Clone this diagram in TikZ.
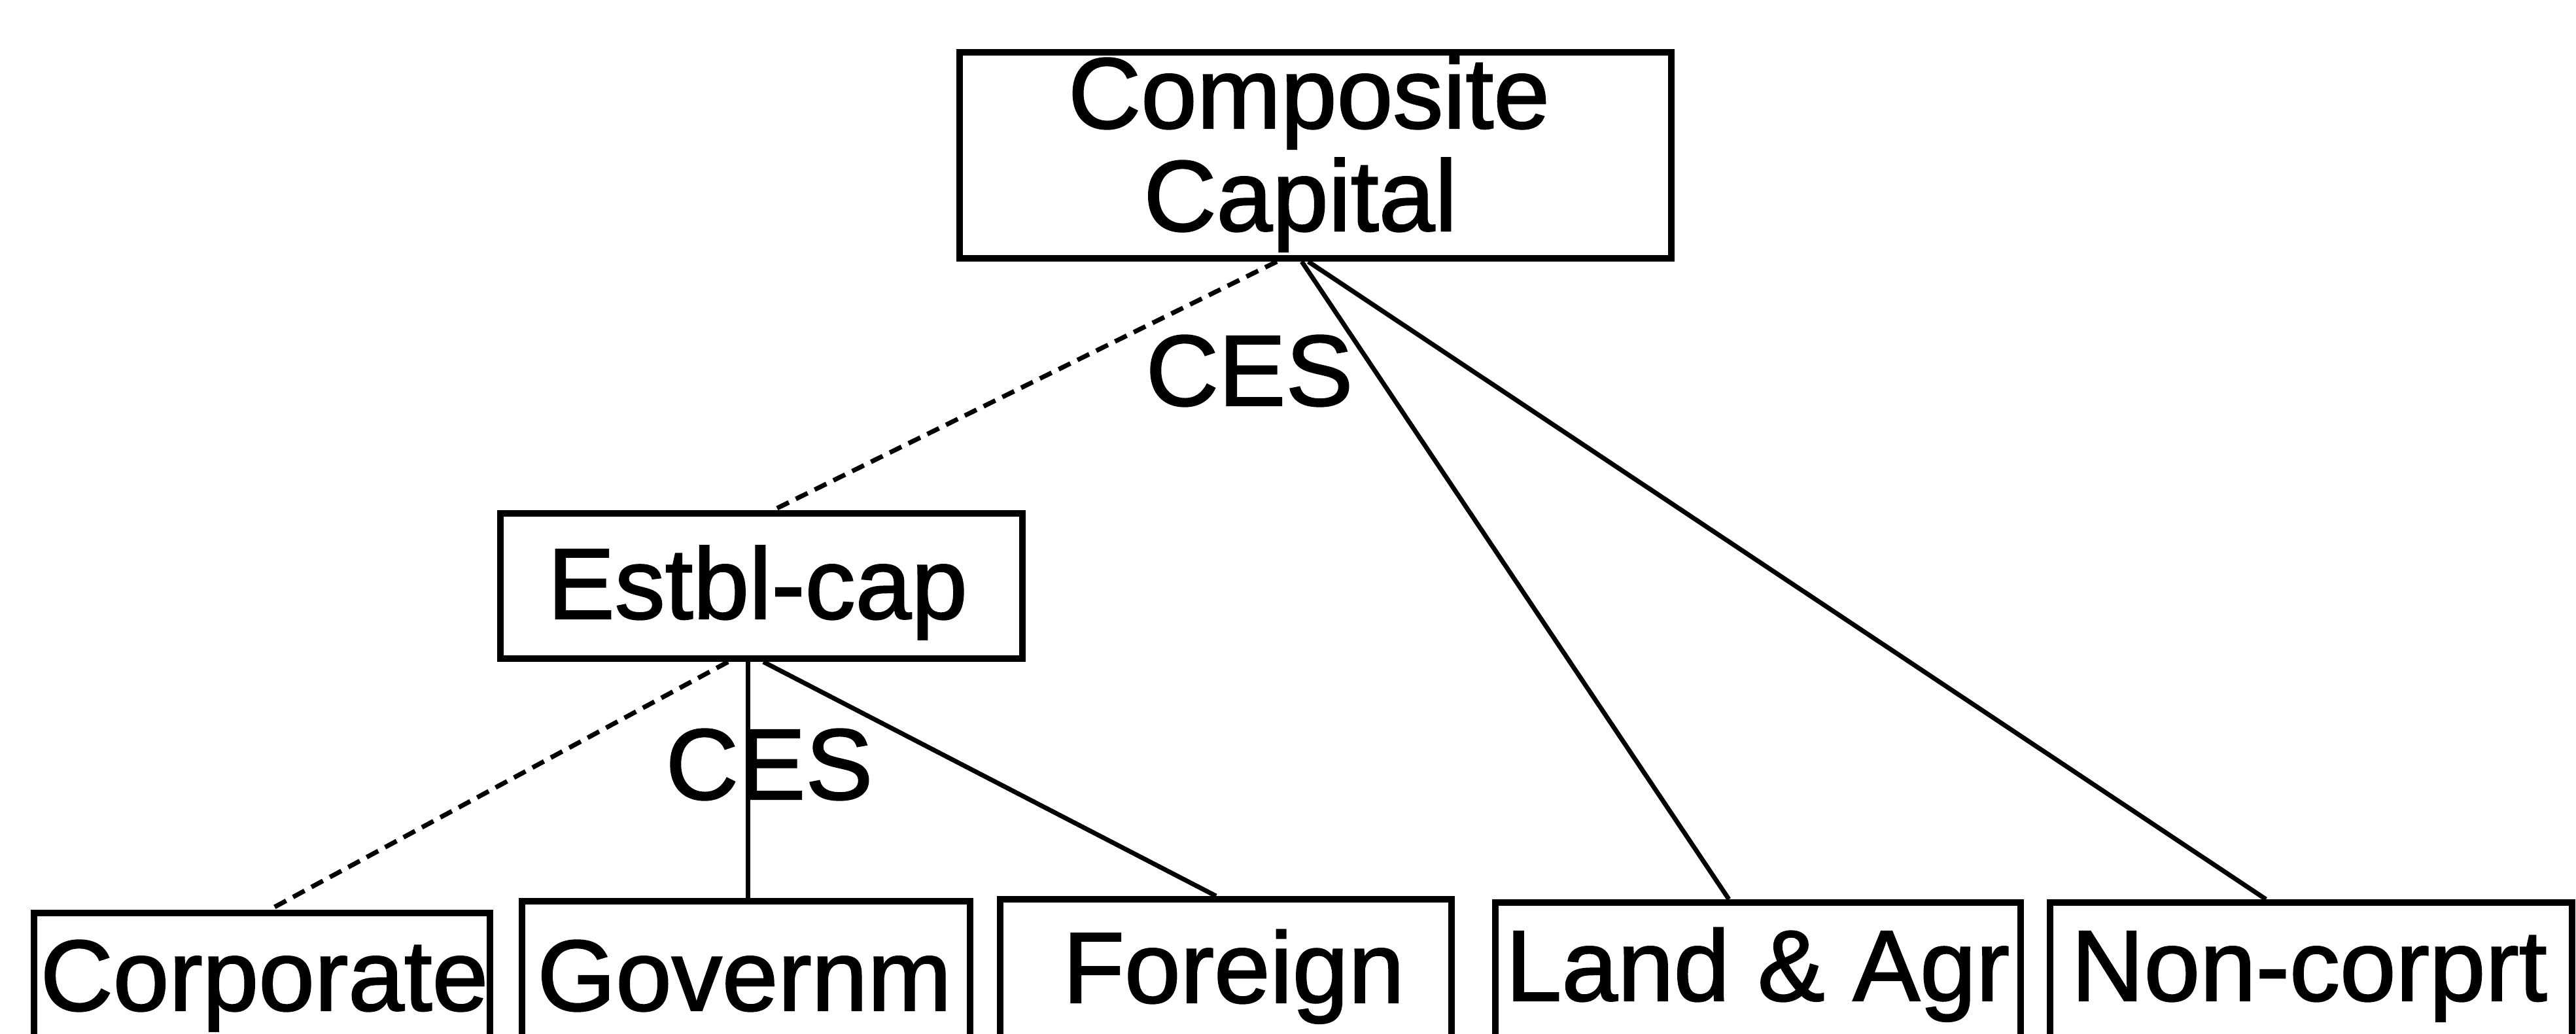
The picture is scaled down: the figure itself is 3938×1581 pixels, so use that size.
\documentclass[tikz,border=0pt]{standalone}
\usepackage{fontspec}
\setmainfont{Liberation Sans}
\newfontfamily\diagfont{Liberation Sans}[UprightFeatures={FakeBold=1.5}]
\usetikzlibrary{fit}
\tikzset{
  box/.style={draw=black, line width=2.5pt, inner sep=0pt, fill=none},
  lbl/.style={inner sep=0pt, anchor=base, font=\diagfont\fontsize{38.5}{46}\selectfont},
  conn/.style={draw=black, line width=1.75pt},
  dotconn/.style={draw=black, line width=1.75pt, dash pattern=on 5pt off 3pt}
}
\begin{document}
\begin{tikzpicture}[x=0.25pt,y=-0.25pt]
\useasboundingbox (0,0) rectangle (3938,1581);
\clip (0,0) rectangle (3938,1581);
\fill[white] (0,0) rectangle (3938,1581);
% boxes
\node[box, fit={(1467,80) (2555,395)}] (comp) {};
\node[box, fit={(765,785) (1563,1007)}] (estbl) {};
\node[box, fit={(52,1396) (749,1660)}] (corp) {};
\node[box, fit={(798,1378) (1483,1660)}] (gov) {};
\node[box, fit={(1529,1375) (2219,1660)}] (for) {};
\node[box, fit={(2286,1380) (3089,1660)}] (land) {};
\node[box, fit={(3134,1380) (3932,1660)}] (non) {};
% texts
\node[lbl] (t1) at (2001,196) {Composite};
\node[lbl] (t2) at (1988,353) {Capital};
\node[lbl] (t3) at (1158,946) {Estbl-cap};
\node[lbl] (ces1) at (1910,620) {CES};
\node[lbl] (ces2) at (1176,1222) {CES};
\node[lbl] (t4) at (404,1545) {Corporate};
\node[lbl] (t5) at (1138,1545) {Governm};
\node[lbl] (t6) at (1886,1533) {Foreign};
\node[lbl] (t7) at (2687,1530) {Land \& Agr};
\node[lbl] (t8) at (3530,1530) {Non-corprt};
% connectors
\draw[dotconn] (comp.south -| 1952,0) -- (estbl.north -| 1182,0);
\draw[conn] (comp.south -| 1990,0) -- (land.north -| 2643,0);
\draw[conn] (comp.south -| 2000,0) -- (non.north -| 3464,0);
\draw[dotconn] (estbl.south -| 1113,0) -- (corp.north -| 412,0);
\draw[conn] (estbl.south -| 1143,0) -- (gov.north -| 1143,0);
\draw[conn] (estbl.south -| 1167,0) -- (for.north -| 1859,0);
\end{tikzpicture}
\end{document}
